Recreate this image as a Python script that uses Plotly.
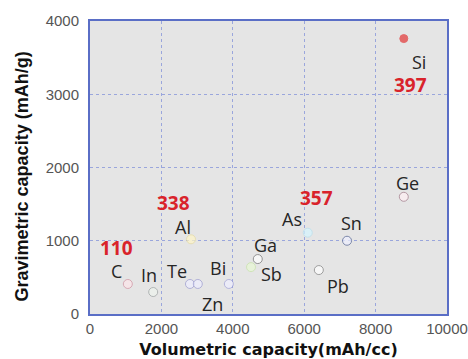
import plotly.graph_objects as go

# ---- data ----
elements = ["C", "In", "Te", "Zn", "Bi", "Al", "Sb", "Ga", "As", "Pb", "Sn", "Ge", "Si"]
volumetric = [1060, 1770, 2800, 3020, 3890, 2830, 4510, 4700, 6100, 6410, 7200, 8790, 8790]
gravimetric = [410, 300, 410, 410, 410, 1020, 640, 750, 1110, 600, 1000, 1600, 3760]
red_labels = {"C": "110", "Al": "338", "As": "357", "Si": "397"}
x_ticks = [0, 2000, 4000, 6000, 8000, 10000]
y_ticks = [0, 1000, 2000, 3000, 4000]

# ---- styles ----
fill = {"C": "#fde6ea", "In": "#eef4ee", "Te": "#eeeeff", "Zn": "#eeeeff", "Bi": "#eeeeff",
        "Al": "#fff6c8", "Sb": "#e8f8d4", "Ga": "#ffffff", "As": "#d4f6ff", "Pb": "#ffffff",
        "Sn": "#eef0ff", "Ge": "#fff0f4", "Si": "#e33636"}
edge = {"C": "#d090a0", "In": "#9aa0a0", "Te": "#9a9ad0", "Zn": "#9a9ad0", "Bi": "#a0a0d8",
        "Al": "#e6dca0", "Sb": "#c8e4a8", "Ga": "#707070", "As": "#b8e0ee", "Pb": "#808080",
        "Sn": "#506090", "Ge": "#a07888", "Si": "#e33636"}
# label offsets in pixels (dx right, dy down) from each point
lab_off = {"C": (-11, -13), "In": (-4, -17), "Te": (-13, -13), "Zn": (15, 20), "Bi": (-11, -16),
           "Al": (-8, -12), "Sb": (20, 7), "Ga": (8, -14), "As": (-16, -14), "Pb": (19, 16),
           "Sn": (4, -18), "Ge": (4, -14), "Si": (15, 23)}
red_off = {"C": (-11, -36), "Al": (-18, -36), "As": (9, -35), "Si": (7, 46)}

fig = go.Figure()
fig.add_trace(go.Scatter(
    x=volumetric, y=gravimetric, mode="markers",
    marker=dict(size=[8 if e == "Si" else 9 for e in elements],
                color=[fill[e] for e in elements],
                line=dict(color=[edge[e] for e in elements], width=1)),
    hoverinfo="skip", showlegend=False))

annotations = []
for e, xv, yv in zip(elements, volumetric, gravimetric):
    dx, dy = lab_off[e]
    annotations.append(dict(x=xv, y=yv, xref="x", yref="y", text=e, showarrow=False,
                            xshift=dx, yshift=-dy,
                            font=dict(family="Open Sans", size=18, color="#262626")))
    if e in red_labels:
        dx, dy = red_off[e]
        annotations.append(dict(x=xv, y=yv, xref="x", yref="y", text="<b>%s</b>" % red_labels[e],
                                showarrow=False, xshift=dx, yshift=-dy,
                                font=dict(family="Open Sans", size=19, color="#d9232b")))

annotations.append(dict(x=-0.19, y=0.47, xref="paper", yref="paper", xanchor="center", yanchor="middle",
                        text="<b>Gravimetric capacity (mAh/g)</b>", textangle=-90, showarrow=False,
                        font=dict(family="Liberation Sans", size=18, color="#111111")))

grid_col = "#9aa6dc"
fig.update_layout(
    width=468, height=359,
    margin=dict(l=90, r=21, t=21, b=45, autoexpand=False),
    paper_bgcolor="white", plot_bgcolor="#e5e5e5",
    annotations=annotations,
    xaxis=dict(range=[0, 10000], tickvals=x_ticks, ticktext=[str(v) for v in x_ticks],
               automargin=False,
               showgrid=True, gridcolor=grid_col, griddash="dot", gridwidth=1,
               zeroline=False, showline=True, linecolor="#5a6ec6", linewidth=2, mirror=True,
               tickfont=dict(family="Liberation Sans", size=15, color="#555555"),
               title=dict(text="<b>Volumetric capacity(mAh/cc)</b>", standoff=8,
                          font=dict(family="DejaVu Sans", size=16, color="#111111"))),
    yaxis=dict(range=[0, 4000], tickvals=y_ticks, ticktext=[str(v) for v in y_ticks],
               automargin=False,
               showgrid=True, gridcolor=grid_col, griddash="dot", gridwidth=1,
               zeroline=False, showline=True, linecolor="#5a6ec6", linewidth=2, mirror=True,
               ticks="outside", ticklen=6, tickcolor="rgba(0,0,0,0)",
               tickfont=dict(family="Liberation Sans", size=15, color="#555555")),
)

fig.write_html("out.html")
